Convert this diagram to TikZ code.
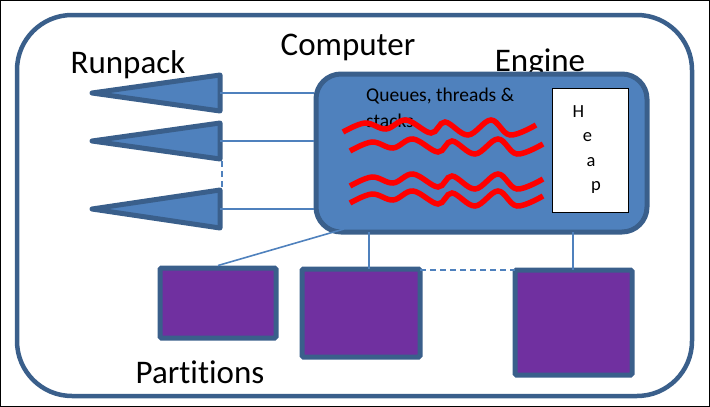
\documentclass[tikz,border=0pt]{standalone}
\usepackage{fontspec}
\setmainfont{Carlito}[Ligatures={NoCommon}]
\usetikzlibrary{calc}
\definecolor{fillblue}{HTML}{4F81BD}
\definecolor{edgeblue}{HTML}{3A5F8B}
\definecolor{purplebox}{HTML}{7030A0}
\begin{document}
\begin{tikzpicture}[x=1pt,y=-1pt,
  outerbox/.style={draw=edgeblue,line width=4.5pt,rounded corners=55pt},
  enginebox/.style={draw=edgeblue,fill=fillblue,line width=5pt,rounded corners=25pt,inner sep=0pt},
  heapbox/.style={draw=black,fill=white,line width=0.8pt,inner sep=0pt,minimum width=76pt,minimum height=124pt},
  partbox/.style={draw=edgeblue,fill=purplebox,line width=5pt,rounded corners=1.5pt,inner sep=0pt},
  runtri/.style={draw=edgeblue,fill=fillblue,line width=5pt,line join=round},
  link/.style={draw=fillblue,line width=1.6pt},
  linkdash/.style={link,dash pattern=on 6pt off 4pt},
  wave/.style={draw=red,line width=5.5pt},
  bigtext/.style={font=\fontsize{33}{38}\selectfont,inner sep=0pt},
  smalltext/.style={font=\fontsize{19.5}{22}\selectfont,inner sep=0pt,anchor=west},
  heaptext/.style={font=\fontsize{18.5}{20}\selectfont,inner sep=0pt}]
\useasboundingbox (0,0) rectangle (710,407);
\draw[black,line width=1pt] (0.5,0.5) rectangle (709.5,406.5);
% computer
\draw[outerbox] (17,15) rectangle (692,396);
\node[bigtext] (computer) at (348,47) {Computer};
\node[bigtext] (runpack) at (128,65) {Runpack};
\node[bigtext] (engine) at (540,63) {Engine};
\node[bigtext] (partitions) at (200,372) {Partitions};
% engine
\node[enginebox,minimum width=331pt,minimum height=158pt] (eng) at (481.5,153) {};
\node[heapbox] (heap) at (590,150) {};
\node[heaptext] (hH) at (578.5,112) {H};
\node[heaptext] (he) at (587.5,137) {e};
\node[heaptext] (ha) at (591,162) {a};
\node[heaptext] (hp) at (596,187) {p};
\node[smalltext] (queues) at (366,96) {Queues, threads \&};
\node[smalltext] (stacks) at (366,121) {stacks};
% waves
\foreach \sx/\sy in {343/132,350/151,350/186,350/203}{
  \draw[wave,shift={(\sx,\sy)}] plot[smooth,tension=0.6] coordinates
    {(0,0) (22,-9) (43,-3) (63,-12) (88,1) (102,-10) (125,3) (148,-12) (167,3) (193,-7)};
}
% runpack triangles
\coordinate (t1) at (220,93);
\coordinate (t2) at (220,141);
\coordinate (t3) at (220,209);
\draw[runtri] (92,93) -- (220,75) -- (220,111) -- cycle;
\draw[runtri] (92,141) -- (220,123) -- (220,159) -- cycle;
\draw[runtri] (92,209) -- (220,190) -- (220,228) -- cycle;
\draw[link] (t1) -- (t1 -| eng.west);
\draw[link] (t2) -- (t2 -| eng.west);
\draw[link] (t3) -- (t3 -| eng.west);
\draw[linkdash] (222,161) -- (222,189);
% partitions
\node[partbox,minimum width=116pt,minimum height=70pt] (p1) at (218,303) {};
\node[partbox,minimum width=118pt,minimum height=88pt] (p2) at (361,313) {};
\node[partbox,minimum width=117pt,minimum height=105pt] (p3) at (573.5,322.5) {};
\coordinate (engbl) at (344,229);
\coordinate (d1) at (420,270);
\coordinate (d2) at (515,270);
\draw[link] (p1.north) -- (engbl);
\draw[link] (369,269) -- (369,232);
\draw[link] (573,270) -- (573,232);
\draw[linkdash] (d1) -- (d2);
\end{tikzpicture}
\end{document}
